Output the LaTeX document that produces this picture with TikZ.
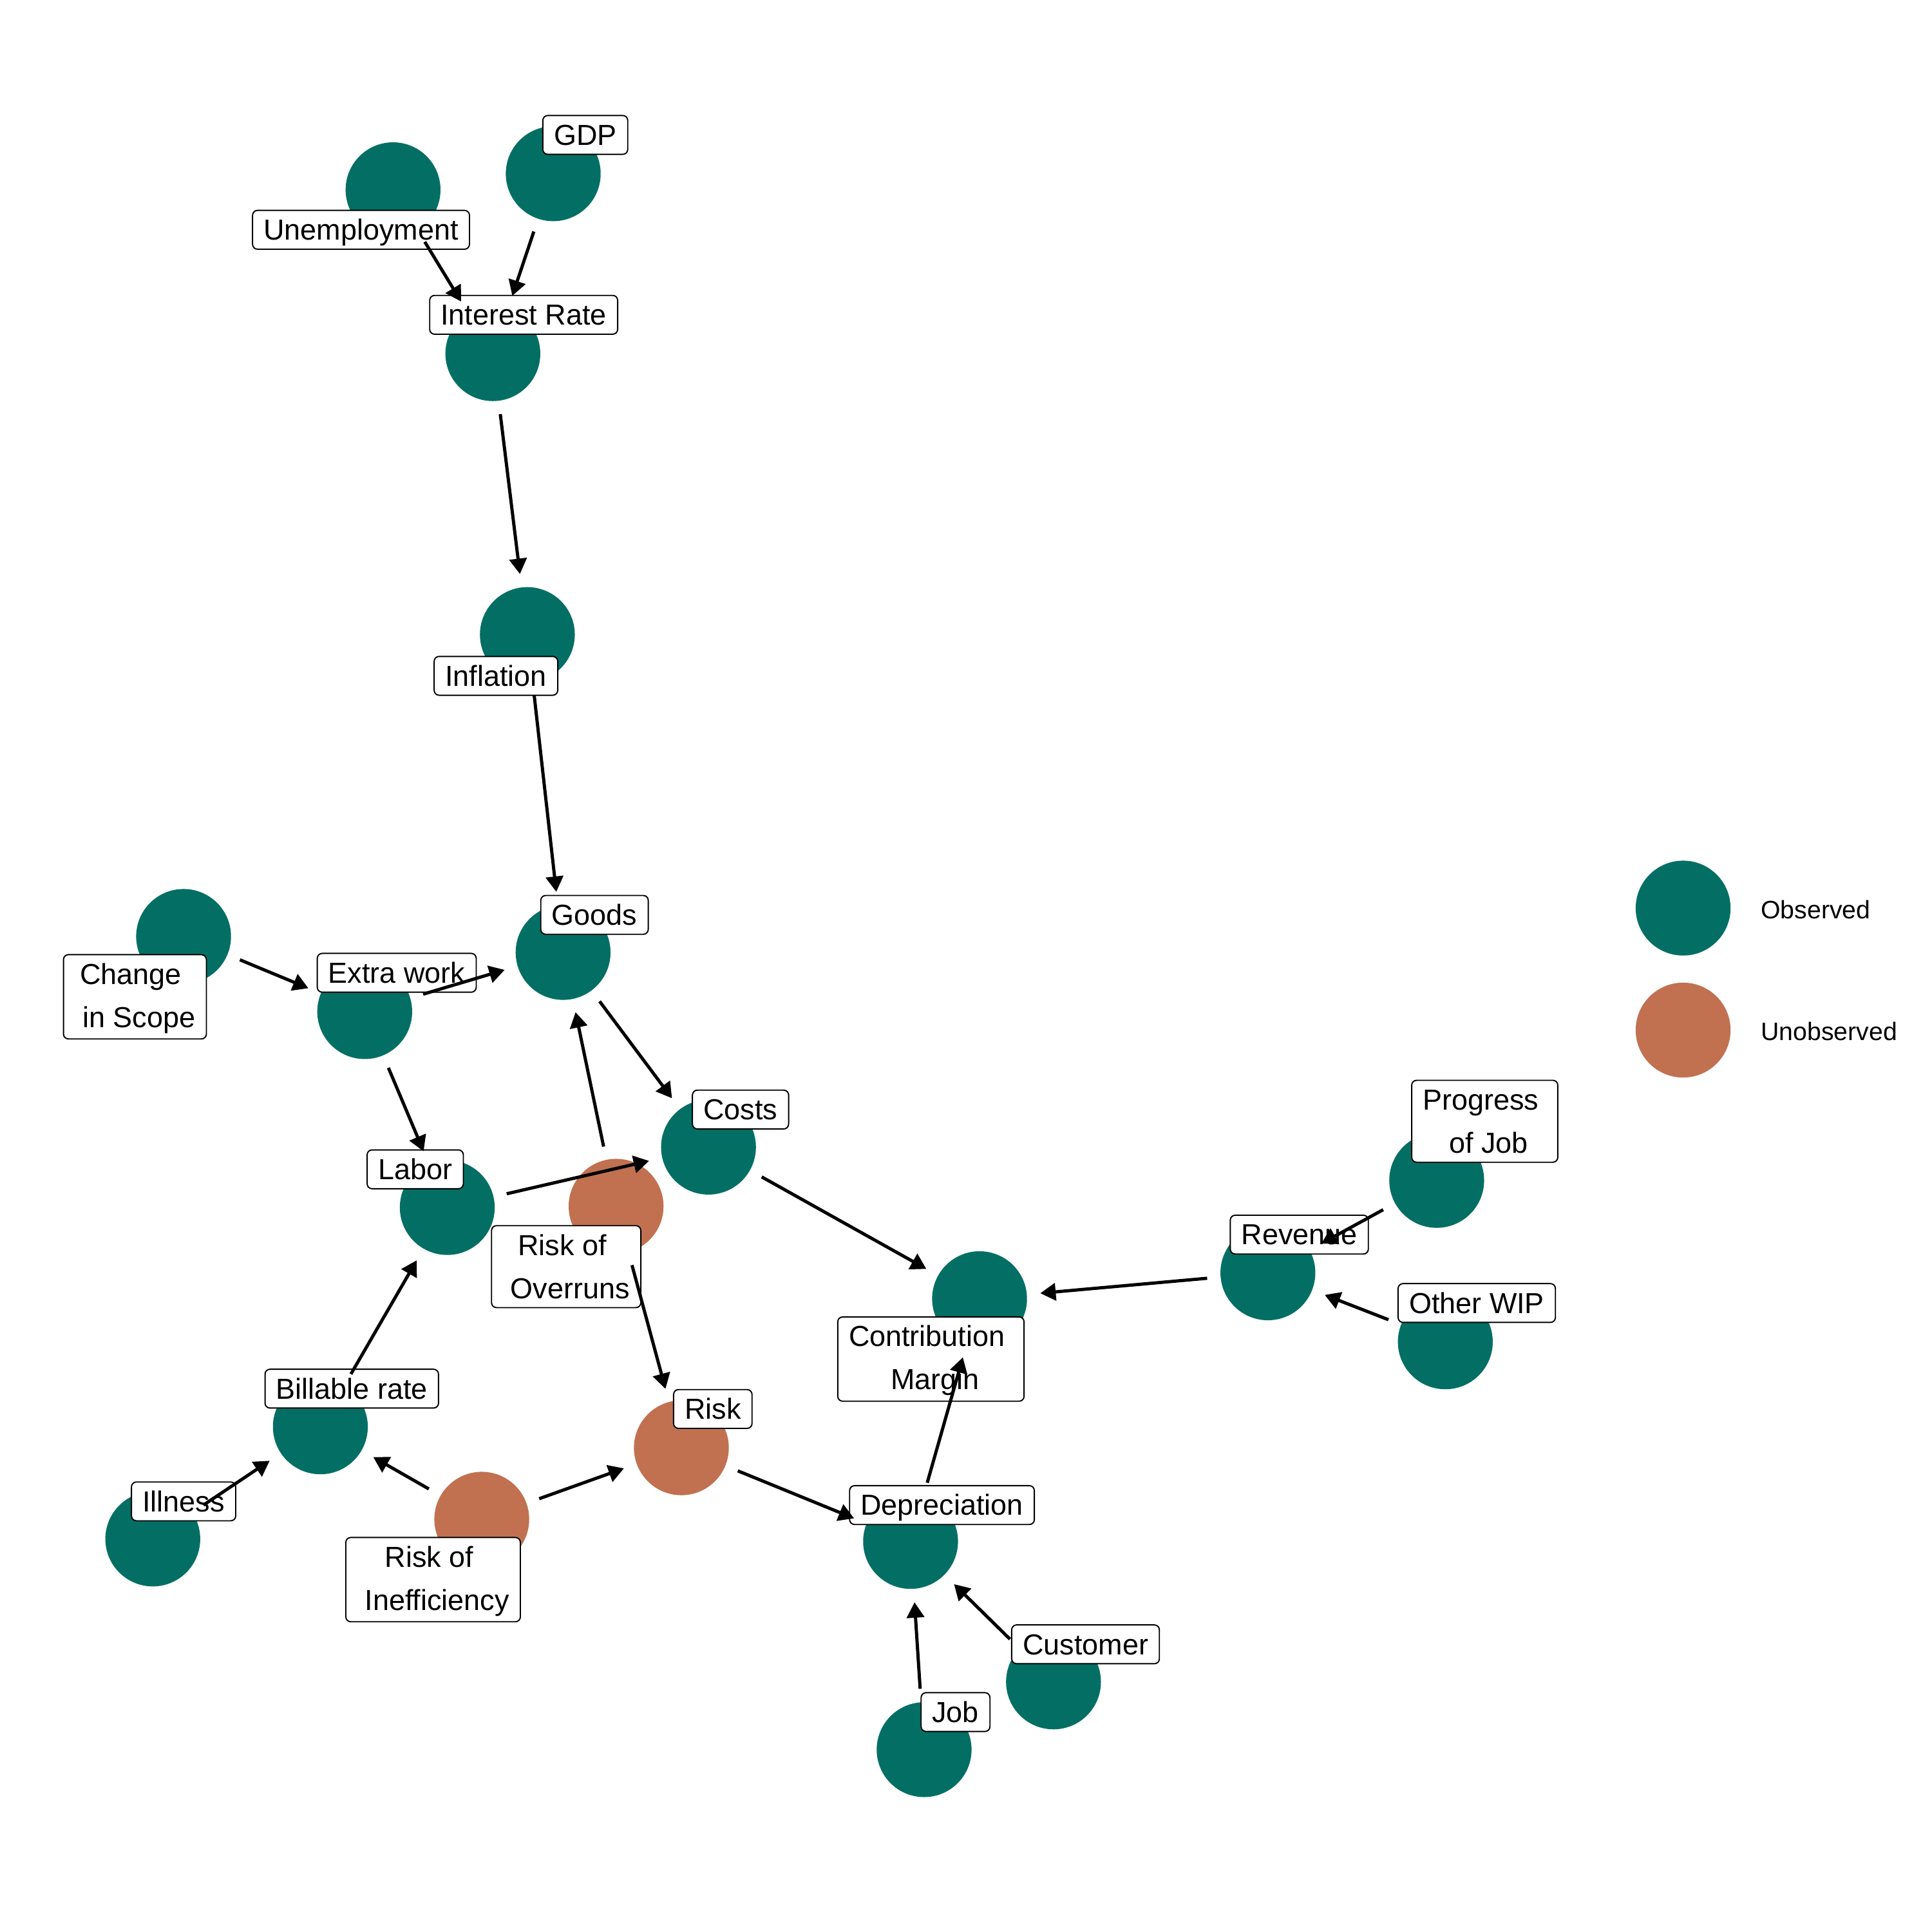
\documentclass[tikz,border=0pt]{standalone}
\usepackage{fontspec}
\setmainfont{Liberation Sans}
\usetikzlibrary{arrows.meta}
\definecolor{teal0}{RGB}{3,111,100}
\definecolor{orange0}{RGB}{193,113,80}
\newcommand\lsp{\hbox{\ }}
\newcommand\topst{\rule{0pt}{19.5pt}}
\newcommand\botst{\rule[-3pt]{0pt}{3pt}}
\tikzset{
  obs/.style={circle, fill=teal0, minimum size=77pt, inner sep=0pt, outer sep=0pt},
  unobs/.style={obs, fill=orange0},
  lab/.style={draw, line width=1pt, rounded corners=4pt, fill=white, inner xsep=9pt, inner ysep=4.5pt,
    text height=19.5pt, text depth=3pt, font=\fontsize{23.5}{35}\selectfont},
  labtwo/.style={draw, line width=1pt, rounded corners=4pt, fill=white, inner xsep=9pt, inner ysep=4.5pt,
    align=center, font=\fontsize{23.5}{35}\selectfont},
  edge/.style={-{Triangle[length=12.5pt,width=14pt]}, line width=2.6pt, shorten >=11pt, shorten <=11pt},
  legtext/.style={anchor=west, inner sep=0pt, font=\fontsize{20.5}{24}\selectfont}
}
\begin{document}
\begin{tikzpicture}[x=1pt,y=-1pt]
\useasboundingbox (0,0) rectangle (1568,1568);
% circles
\node[obs] (unemp) at (319,154) {};
\node[obs] (gdp) at (449,141) {};
\node[obs] (irate) at (400,287) {};
\node[obs] (infl) at (428,515) {};
\node[obs] (goods) at (457,773) {};
\node[obs] (scope) at (149,760) {};
\node[obs] (extra) at (296,821) {};
\node[obs] (costs) at (575,931) {};
\node[obs] (labor) at (363,980) {};
\node[unobs] (overrun) at (500,979) {};
\node[obs] (cm) at (795,1054) {};
\node[obs] (rev) at (1029,1033) {};
\node[obs] (prog) at (1166,958) {};
\node[obs] (wip) at (1173,1089) {};
\node[obs] (bill) at (260,1158) {};
\node[unobs] (risk) at (553,1175) {};
\node[obs] (ill) at (124,1249) {};
\node[unobs] (ineff) at (391,1233) {};
\node[obs] (dep) at (739,1251) {};
\node[obs] (cust) at (855,1365) {};
\node[obs] (job) at (750,1420) {};
% labels
\node[lab] (lunemp) at (293,186.5) {Unemployment};
\node[lab] (lgdp) at (475,109.5) {GDP};
\node[lab] (lirate) at (425,255.5) {Interest Rate};
\node[lab] (linfl) at (402.5,548.5) {Inflation};
\node[lab] (lgoods) at (482.5,742.5) {Goods};
\node[labtwo] (lscope) at (109.5,809) {\topst Change\lsp\\\lsp in Scope\botst};
\node[lab] (lextra) at (322,789.5) {Extra work};
\node[lab] (lcosts) at (601,900.5) {Costs};
\node[lab] (llabor) at (337,949) {Labor};
\node[labtwo] (loverrun) at (459.5,1028) {\topst Risk of\lsp\\\lsp Overruns\botst};
\node[labtwo] (lcm) at (755.5,1103) {\topst Contribution\lsp\\\lsp Margin\botst};
\node[lab] (lrev) at (1054.5,1002) {Revenue};
\node[labtwo] (lprog) at (1205,910) {\topst Progress\lsp\\\lsp of Job\botst};
\node[lab] (lwip) at (1198.5,1057.5) {Other WIP};
\node[lab] (lbill) at (285.5,1127) {Billable rate};
\node[lab] (lrisk) at (578.5,1143.5) {Risk};
\node[lab] (lill) at (149,1218.5) {Illness};
\node[labtwo] (lineff) at (351.5,1282) {\topst Risk of\lsp\\\lsp Inefficiency\botst};
\node[lab] (ldep) at (764.5,1221.5) {Depreciation};
\node[lab] (lcust) at (881,1334.5) {Customer};
\node[lab] (ljob) at (775.5,1389.5) {Job};
% edges
\draw[edge] (unemp) -- (irate);
\draw[edge] (gdp) -- (irate);
\draw[edge] (irate) -- (infl);
\draw[edge] (infl) -- (goods);
\draw[edge] (scope) -- (extra);
\draw[edge] (extra) -- (goods);
\draw[edge] (extra) -- (labor);
\draw[edge] (goods) -- (costs);
\draw[edge] (overrun) -- (goods);
\draw[edge] (labor) -- (costs);
\draw[edge] (overrun) -- (risk);
\draw[edge] (costs) -- (cm);
\draw[edge] (rev) -- (cm);
\draw[edge] (prog) -- (rev);
\draw[edge] (wip) -- (rev);
\draw[edge] (bill) -- (labor);
\draw[edge] (ill) -- (bill);
\draw[edge] (ineff) -- (bill);
\draw[edge] (ineff) -- (risk);
\draw[edge] (risk) -- (dep);
\draw[edge] (dep) -- (cm);
\draw[edge] (cust) -- (dep);
\draw[edge] (job) -- (dep);
% legend
\node[obs] (legobs) at (1366,737) {};
\node[unobs] (legunobs) at (1366,836) {};
\node[legtext] (tobs) at (1429,738) {Observed};
\node[legtext] (tunobs) at (1429,837) {Unobserved};
\end{tikzpicture}
\end{document}
